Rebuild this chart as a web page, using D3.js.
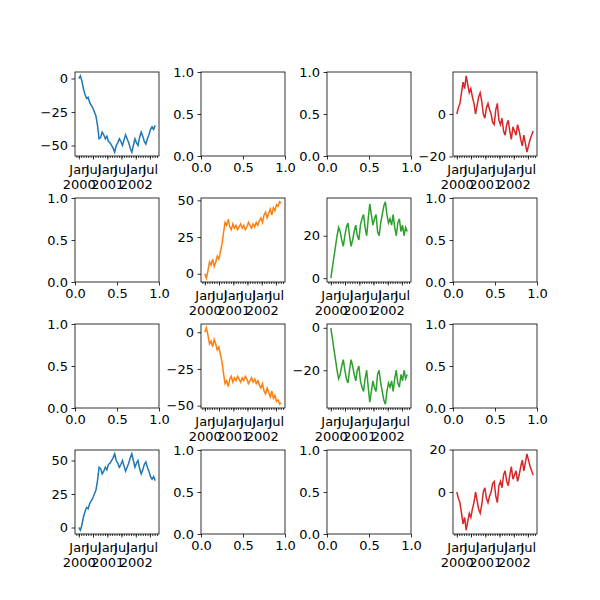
<!DOCTYPE html>
<html>
<head>
<meta charset="UTF-8">
<script src="https://d3js.org/d3.v7.min.js"></script>
<style>
body { margin: 0; background: white; }
text { font-family: "DejaVu Sans", sans-serif; }
</style>
</head>
<body>
<div id="chart"></div>
<script>
// random-walk series, one value every 20 days from 2000-01-01
const seriesA = [0,2,-2,-8,-12,-15,-14,-18,-20,-22,-25,-28,-35,-45,-44,-40,-42,-45,-43,-47,-48,-50,-52,-55,-50,-48,-45,-47,-50,-46,-42,-45,-48,-52,-55,-50,-45,-48,-50,-44,-40,-43,-47,-49,-45,-42,-38,-36,-38,-35];
const seriesB = [0,-3,2,8,6,10,5,8,12,10,15,20,28,35,33,37,32,30,34,31,33,30,32,34,31,33,30,32,35,33,31,34,32,35,33,36,38,35,40,42,38,41,44,40,45,43,47,46,49,48];
const seriesC = [0,5,10,15,20,24,22,18,15,20,24,26,20,15,18,22,25,20,18,25,28,30,24,20,28,35,30,25,28,30,22,20,26,30,34,36,30,26,28,25,30,24,20,26,28,22,25,20,24,22];
const seriesD = [0,3,5,10,15,12,18,14,10,12,8,5,0,4,8,10,6,0,-2,3,5,2,0,-4,-5,2,5,-3,-5,-2,-8,-10,-5,-3,-8,-12,-6,-8,-10,-5,-8,-12,-15,-10,-14,-18,-15,-12,-10,-8];
const colors = { A: "#1f77b4", B: "#ff7f0e", C: "#2ca02c", D: "#d62728" };
const series = {
    A: seriesA, B: seriesB, C: seriesC, D: seriesD,
    nA: seriesA.map(v => -v), nB: seriesB.map(v => -v), nC: seriesC.map(v => -v), nD: seriesD.map(v => -v)
};
const yTicks = { A: [0,-25,-50], B: [0,25,50], C: [0,20], D: [0,-20], nA: [0,25,50], nB: [0,-25,-50], nC: [0,-20], nD: [0,20] };
// grid layout, null = empty axes
const layout = [
    ["A", null, null, "D"],
    [null, "B", "C", null],
    [null, "nB", "nC", null],
    ["nA", null, null, "nD"]
];

const start = new Date(2000, 0, 1);
const dates = seriesA.map((_, i) => d3.timeDay.offset(start, i * 20));
const size = 84, step = 126, marginLeft = 75, marginTop = 72;

const svg = d3.select("#chart").append("svg").attr("width", 600).attr("height", 600);

function styleAxis(g) {
    g.selectAll("text").attr("font-size", 13).attr("fill", "black");
    g.selectAll(".domain").remove();
    g.selectAll("line").attr("stroke", "black").attr("stroke-width", 0.8);
}

layout.forEach((row, r) => row.forEach((key, c) => {
    const g = svg.append("g").attr("transform", `translate(${marginLeft + c * step},${marginTop + r * step})`);
    let x, y;
    if (key) {
        const vals = series[key];
        const t0 = dates[0], t1 = dates[dates.length - 1];
        const dt = (t1 - t0) * 0.05;
        x = d3.scaleTime().domain([new Date(+t0 - dt), new Date(+t1 + dt)]).range([0, size]);
        const [lo, hi] = d3.extent(vals);
        const pad = (hi - lo) * 0.05;
        y = d3.scaleLinear().domain([lo - pad, hi + pad]).range([size, 0]);
        const line = d3.line().x((d, i) => x(dates[i])).y(d => y(d));
        g.append("path").datum(vals).attr("d", line).attr("fill", "none")
            .attr("stroke", colors[key.replace("n", "")]).attr("stroke-width", 1.5);
        // minor month ticks
        g.append("g").attr("transform", `translate(0,${size})`)
            .call(d3.axisBottom(x).ticks(d3.timeMonth.every(1)).tickSize(2).tickFormat(""))
            .call(styleAxis);
        const majors = d3.timeMonth.every(6).range(x.domain()[0], x.domain()[1]);
        const xa = g.append("g").attr("transform", `translate(0,${size})`)
            .call(d3.axisBottom(x).tickValues(majors).tickSize(3.5).tickPadding(3.5).tickFormat(""))
            .call(styleAxis);
        xa.selectAll(".tick").append("text").attr("font-size", 13).attr("fill", "black")
            .attr("text-anchor", "middle").attr("y", 18)
            .text(d => d.getMonth() === 0 ? "Jan" : "Jul");
        xa.selectAll(".tick").filter(d => d.getMonth() === 0).append("text").attr("font-size", 13)
            .attr("fill", "black").attr("text-anchor", "middle").attr("y", 33).text(d => d.getFullYear());
        g.append("g").call(d3.axisLeft(y).tickValues(yTicks[key]).tickSize(3.5).tickPadding(3.5)).call(styleAxis);
    } else {
        x = d3.scaleLinear().domain([0, 1]).range([0, size]);
        y = d3.scaleLinear().domain([0, 1]).range([size, 0]);
        g.append("g").attr("transform", `translate(0,${size})`)
            .call(d3.axisBottom(x).tickValues([0, 0.5, 1]).tickFormat(d3.format(".1f")).tickSize(3.5).tickPadding(3.5))
            .call(styleAxis);
        g.append("g").call(d3.axisLeft(y).tickValues([0, 0.5, 1]).tickFormat(d3.format(".1f")).tickSize(3.5).tickPadding(3.5))
            .call(styleAxis);
    }
    g.append("rect").attr("width", size).attr("height", size).attr("fill", "none")
        .attr("stroke", "black").attr("stroke-width", 0.8);
}));
</script>
</body>
</html>
